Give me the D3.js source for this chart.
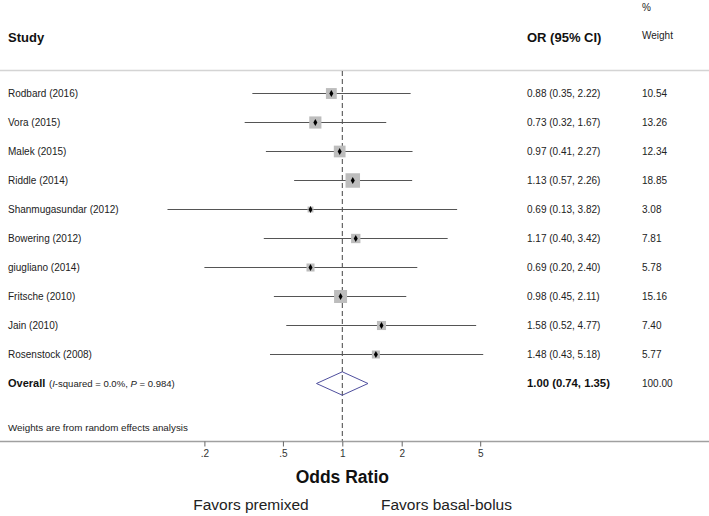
<!DOCTYPE html>
<html><head><meta charset="utf-8">
<script src="https://cdn.jsdelivr.net/npm/d3@7"></script>
<style>html,body{margin:0;padding:0;background:#fff;}svg{display:block;font-family:"Liberation Sans",Arial,sans-serif;}</style>
</head><body>
<script>
const studies = ["Rodbard (2016)","Vora (2015)","Malek (2015)","Riddle (2014)","Shanmugasundar (2012)","Bowering (2012)","giugliano (2014)","Fritsche (2010)","Jain (2010)","Rosenstock (2008)"];
const orVals = [0.88,0.73,0.97,1.13,0.69,1.17,0.69,0.98,1.58,1.48];
const loVals = [0.35,0.32,0.41,0.57,0.13,0.40,0.20,0.45,0.52,0.43];
const hiVals = [2.22,1.67,2.27,2.26,3.82,3.42,2.40,2.11,4.77,5.18];
const weights = [10.54,13.26,12.34,18.85,3.08,7.81,5.78,15.16,7.40,5.77];
const overall = {or:1.00, lo:0.74, hi:1.35, weight:100.00};
const tickValues = [0.2,0.5,1,2,5];
const tickLabels = [".2",".5","1","2","5"];

const W = 709, H = 516;
const svg = d3.select("body").append("svg").attr("width", W).attr("height", H);
const x = d3.scaleLog().domain([0.2,5]).range([204.4,480.2]);
const rows = studies.concat(["Overall"]);
const y = d3.scalePoint().domain(rows).range([93.5,383.5]);
const f2 = d3.format(".2f");
const boxSide = d3.scaleSqrt().domain([0,18.85]).range([0,14.5]);

// header
svg.append("text").attr("x",8).attr("y",37).attr("dy","0.35em").attr("font-size",13).attr("font-weight","bold").attr("fill","#111").text("Study");
svg.append("text").attr("x",527).attr("y",37).attr("dy","0.35em").attr("font-size",13).attr("font-weight","bold").attr("fill","#111").text("OR (95% CI)");
svg.append("text").attr("x",642).attr("y",7).attr("dy","0.35em").attr("font-size",10).attr("fill","#222").text("%");
svg.append("text").attr("x",642).attr("y",35).attr("dy","0.35em").attr("font-size",10).attr("fill","#222").text("Weight");

// separator
svg.append("line").attr("x1",0).attr("x2",W).attr("y1",70.5).attr("y2",70.5).attr("stroke","#d4d4d4").attr("stroke-width",1.5);

// reference dashed line
svg.append("line").attr("x1",x(1)).attr("x2",x(1)).attr("y1",71).attr("y2",441).attr("stroke","#444").attr("stroke-width",1).attr("stroke-dasharray","5,3");

// study rows
const data = studies.map((s,i)=>({s, or:orVals[i], lo:loVals[i], hi:hiVals[i], w:weights[i]}));
const g = svg.append("g");
g.selectAll("line.ci").data(data).join("line").attr("class","ci")
  .attr("x1",d=>x(d.lo)).attr("x2",d=>x(d.hi)).attr("y1",d=>y(d.s)).attr("y2",d=>y(d.s))
  .attr("stroke","#555").attr("stroke-width",1);
g.selectAll("rect.box").data(data).join("rect").attr("class","box")
  .attr("x",d=>x(d.or)-boxSide(d.w)/2).attr("y",d=>y(d.s)-boxSide(d.w)/2)
  .attr("width",d=>boxSide(d.w)).attr("height",d=>boxSide(d.w)).attr("fill","#bdbdbd");
g.selectAll("path.pt").data(data).join("path").attr("class","pt")
  .attr("transform",d=>`translate(${x(d.or)},${y(d.s)})`)
  .attr("d", d3.symbol(d3.symbolDiamond, 14)).attr("fill","#000");
g.selectAll("text.lab").data(data).join("text").attr("class","lab")
  .attr("x",8).attr("y",d=>y(d.s)).attr("dy","0.35em").attr("font-size",10).attr("fill","#222").text(d=>d.s);
g.selectAll("text.orci").data(data).join("text").attr("class","orci")
  .attr("x",527).attr("y",d=>y(d.s)).attr("dy","0.35em").attr("font-size",10).attr("fill","#222")
  .text(d=>`${f2(d.or)} (${f2(d.lo)}, ${f2(d.hi)})`);
g.selectAll("text.wt").data(data).join("text").attr("class","wt")
  .attr("x",642).attr("y",d=>y(d.s)).attr("dy","0.35em").attr("font-size",10).attr("fill","#222")
  .text(d=>f2(d.w));

// overall row
const yo = y("Overall");
svg.append("text").attr("x",8).attr("y",yo).attr("dy","0.35em").attr("fill","#111")
  .attr("font-size",11).attr("font-weight","bold").text("Overall");
const pt = svg.append("text").attr("x",49).attr("y",yo).attr("dy","0.35em").attr("fill","#222").attr("font-size",9.5);
pt.append("tspan").text("(");
pt.append("tspan").attr("font-style","italic").text("I");
pt.append("tspan").text("-squared = 0.0%, ");
pt.append("tspan").attr("font-style","italic").text("P");
pt.append("tspan").text(" = 0.984)");
// fit parenthetical to the reference extent
const pw = pt.node().getComputedTextLength();
if (pw > 0) pt.attr("font-size", 9.5 * 126 / pw);

const dh = 11.7;
svg.append("path")
  .attr("d", d3.line()([[x(overall.lo),yo],[x(overall.or),yo-dh],[x(overall.hi),yo],[x(overall.or),yo+dh]]) + "Z")
  .attr("fill","none").attr("stroke","#4f4f9e").attr("stroke-width",1);
svg.append("text").attr("x",527).attr("y",yo).attr("dy","0.35em").attr("font-size",11.3).attr("font-weight","bold").attr("fill","#111")
  .text(`${f2(overall.or)} (${f2(overall.lo)}, ${f2(overall.hi)})`);
svg.append("text").attr("x",642).attr("y",yo).attr("dy","0.35em").attr("font-size",10).attr("fill","#222").text(f2(overall.weight));

svg.append("text").attr("x",8).attr("y",428).attr("dy","0.35em").attr("font-size",9.8).attr("fill","#222").text("Weights are from random effects analysis");

// axis
svg.append("line").attr("x1",0).attr("x2",W).attr("y1",441.5).attr("y2",441.5).attr("stroke","#a0a0a0").attr("stroke-width",1.5);
const axis = d3.axisBottom(x).tickValues(tickValues).tickFormat((d,i)=>tickLabels[i]).tickSize(5).tickPadding(3);
const ag = svg.append("g").attr("transform","translate(0,441.5)").call(axis);
ag.select(".domain").remove();
ag.selectAll(".tick line").attr("stroke","#666");
ag.selectAll(".tick text").attr("font-size",10).attr("fill","#333").attr("font-family","Liberation Sans, Arial, sans-serif");

svg.append("text").attr("x",x(1)).attr("y",477).attr("dy","0.35em").attr("text-anchor","middle").attr("font-size",17.5).attr("font-weight","bold").attr("fill","#111").text("Odds Ratio");
svg.append("text").attr("x",251).attr("y",505).attr("dy","0.35em").attr("text-anchor","middle").attr("font-size",15.5).attr("fill","#222").text("Favors premixed");
svg.append("text").attr("x",446.5).attr("y",505).attr("dy","0.35em").attr("text-anchor","middle").attr("font-size",15.5).attr("fill","#222").text("Favors basal-bolus");
</script>
</body></html>
